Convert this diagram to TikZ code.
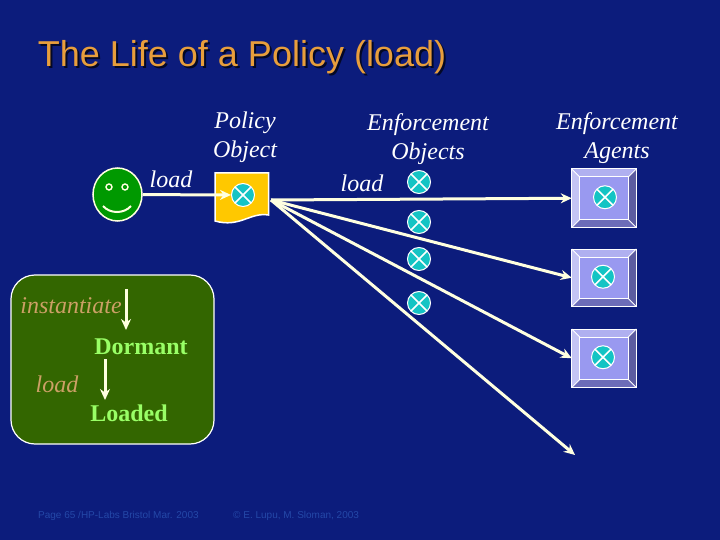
\documentclass[tikz,border=0pt]{standalone}
\usepackage{fontspec}
\setmainfont{Liberation Serif}
\setsansfont{Liberation Sans}
\usetikzlibrary{arrows.meta,shapes.geometric}
\definecolor{slidebg}{HTML}{0C1C7C}
\definecolor{titleor}{HTML}{E89E3C}
\definecolor{cream}{HTML}{FFFFE0}
\definecolor{tealx}{HTML}{14C4C4}
\definecolor{docor}{HTML}{FFC800}
\definecolor{panelgr}{HTML}{336600}
\definecolor{statelb}{HTML}{99FF66}
\definecolor{taninst}{HTML}{CCA066}
\definecolor{footbl}{HTML}{2448A8}
\definecolor{boxmid}{HTML}{9999F0}
\definecolor{boxtop}{HTML}{B0B0F0}
\definecolor{boxleft}{HTML}{C4C4F4}
\definecolor{boxbot}{HTML}{6C6CB8}
\definecolor{boxright}{HTML}{5C5CA0}
\tikzset{
  lbl/.style={text=white,font=\fontsize{24}{29}\selectfont\itshape,align=center,inner sep=0pt},
  statelbl/.style={text=statelb,font=\fontsize{24}{28}\selectfont\bfseries,inner sep=0pt},
  tanlbl/.style={text=taninst,font=\fontsize{24}{29}\selectfont\itshape,inner sep=0pt},
  footlbl/.style={text=footbl,font=\sffamily\fontsize{10}{12}\selectfont,inner sep=0pt},
  xcirc/.style={circle,draw=white,fill=tealx,line width=1pt,minimum size=23pt,inner sep=0pt,
    path picture={\draw[white,line width=1.7pt]
      (path picture bounding box.north west) -- (path picture bounding box.south east)
      (path picture bounding box.north east) -- (path picture bounding box.south west);}},
  flow/.style={draw=cream,line width=3pt,-{Stealth[length=11pt,width=10pt]}},
  bevel/.style={draw=white,line width=1pt}
}
\begin{document}
\begin{tikzpicture}[x=1pt,y=-1pt]
\useasboundingbox[fill=slidebg] (0,0) rectangle (720,540);
% title
\node[text=black!70!slidebg,font=\fontsize{36}{41}\selectfont\sffamily,inner sep=0pt] (titleshadow) at (244,59) {The Life of a Policy (load)};
\node[text=titleor,font=\fontsize{36}{41}\selectfont\sffamily,inner sep=0pt] (title) at (242,57) {The Life of a Policy (load)};
% column headings
\node[lbl] (polhead) at (245,137) {Policy\\Object};
\node[lbl] (enfhead) at (428,139) {Enforcement\\Objects};
\node[lbl] (agthead) at (617,138) {Enforcement\\Agents};
\node[lbl] (load1) at (171,179) {load};
\node[lbl] (load2) at (362,183) {load};
% smiley
\node[ellipse,draw=cream,fill=green!60!black,line width=1.5pt,minimum width=49pt,minimum height=53pt,inner sep=0pt] (smiley) at (117.5,194.5) {};
\node[circle,draw=cream,line width=1.4pt,fill=green!60!black,minimum size=6pt,inner sep=0pt] (eyeL) at (109,187) {};
\node[circle,draw=cream,line width=1.4pt,fill=green!60!black,minimum size=6pt,inner sep=0pt] (eyeR) at (125,187) {};
\coordinate (smileL) at (103,206);
\coordinate (smileR) at (131,206);
\draw[cream,line width=2pt] (smileL) .. controls (110,214) and (124,214) .. (smileR);
% policy object
\draw[fill=docor,draw=white,line width=1.5pt] (215,173) -- (268.5,173) -- (268.5,215)
  .. controls (250,212) and (240,228) .. (215,221) -- cycle;
\node[xcirc] (pol) at (243,195) {};
\draw[flow] (smiley) -- (pol);
% enforcement objects
\foreach \nm/\py in {e1/182,e2/222,e3/259,e4/303}
  \node[xcirc] (\nm) at (419,\py) {};
% enforcement agents
\foreach \nm/\xc/\ya/\yb in {a1/605/169.5/227,a2/603/249.5/306,a3/603/329.5/387}{
  \node[draw=white,fill=boxmid,line width=1pt,minimum width=63.5pt,minimum height=\yb pt-\ya pt,inner sep=0pt] (\nm) at (604,{(\ya+\yb)/2}) {};
  \fill[boxtop] (\nm.north west) -- (\nm.north east) -- ([xshift=-8pt,yshift=-8pt]\nm.north east) -- ([xshift=8pt,yshift=-8pt]\nm.north west) -- cycle;
  \fill[boxleft] (\nm.north west) -- (\nm.south west) -- ([xshift=8pt,yshift=8pt]\nm.south west) -- ([xshift=8pt,yshift=-8pt]\nm.north west) -- cycle;
  \fill[boxbot] (\nm.south west) -- (\nm.south east) -- ([xshift=-8pt,yshift=8pt]\nm.south east) -- ([xshift=8pt,yshift=8pt]\nm.south west) -- cycle;
  \fill[boxright] (\nm.north east) -- (\nm.south east) -- ([xshift=-8pt,yshift=8pt]\nm.south east) -- ([xshift=-8pt,yshift=-8pt]\nm.north east) -- cycle;
  \draw[bevel] ([xshift=8pt,yshift=-8pt]\nm.north west) rectangle ([xshift=-8pt,yshift=8pt]\nm.south east);
  \draw[bevel] (\nm.north west) rectangle (\nm.south east);
  \draw[bevel] (\nm.north west) -- ([xshift=8pt,yshift=-8pt]\nm.north west);
  \draw[bevel] (\nm.north east) -- ([xshift=-8pt,yshift=-8pt]\nm.north east);
  \draw[bevel] (\nm.south west) -- ([xshift=8pt,yshift=8pt]\nm.south west);
  \draw[bevel] (\nm.south east) -- ([xshift=-8pt,yshift=8pt]\nm.south east);
  \node[xcirc] (\nm x) at (\xc,{(\ya+\yb)/2-1}) {};
}
% flows
\coordinate (src) at (271,200);
\coordinate (lost) at (575,455);
\draw[flow] (src) -- (a1.west);
\draw[flow] (src) -- (a2.west);
\draw[flow] (src) -- (a3.west);
\draw[flow] (src) -- (lost);
% state panel
\node[draw=white,fill=panelgr,line width=1.2pt,rounded corners=24pt,minimum width=203pt,minimum height=169pt,inner sep=0pt] (panel) at (112.5,359.5) {};
\node[tanlbl] (inst) at (71,306) {instantiate};
\node[statelbl] (dormant) at (141,347) {Dormant};
\node[tanlbl] (load3) at (57,384) {load};
\node[statelbl] (loaded) at (129,413) {Loaded};
\coordinate (inst0) at (126,289);
\coordinate (inst1) at (126,330);
\draw[flow] (inst0) -- (inst1);
\coordinate (load0) at (105,359);
\coordinate (load1end) at (105,400);
\draw[flow] (load0) -- (load1end);
% footer
\node[footlbl,anchor=west] (foot1) at (38,516) {Page 65 /HP-Labs Bristol Mar. 2003};
\node[footlbl,anchor=west] (foot2) at (233,516) {\textcopyright{} E. Lupu, M. Sloman, 2003};
\end{tikzpicture}
\end{document}
